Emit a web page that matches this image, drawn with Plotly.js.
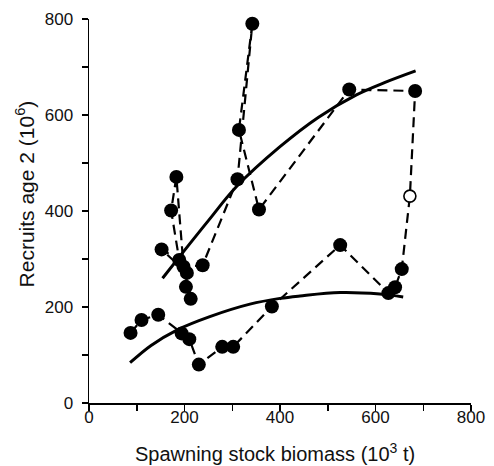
<!DOCTYPE html>
<html>
<head>
<meta charset="utf-8">
<script src="https://cdn.plot.ly/plotly-3.0.1.min.js"></script>
<style>html,body{margin:0;padding:0;background:#fff;}#chart{width:494px;height:466px;}</style>
</head>
<body>
<div id="chart"></div>
<script>
// Stock–recruitment time path (in sequence), spawning stock biomass (10^3 t) and recruits age 2 (10^6)
const ssb = [87, 110, 145, 194, 210, 230, 279, 302, 383, 526, 627, 641, 655, 672, 683, 545, 356, 314, 342, 311, 238, 198, 183, 172, 189, 152, 205, 203, 213];
const recruits = [146, 173, 184, 145, 133, 80, 117, 117, 201, 329, 229, 241, 279, 431, 650, 653, 403, 569, 790, 466, 287, 284, 471, 401, 298, 320, 271, 242, 217];
// index of the open (estimated) point
const openIndex = 13;

// Fitted curves
const upperCurveX = [154, 200, 250, 309, 400, 480, 560, 620, 684];
const upperCurveY = [260, 318, 380, 451, 534, 595, 642, 668, 692];
const lowerCurveX = [86, 130, 184, 253, 337, 400, 442, 526, 609, 658];
const lowerCurveY = [84, 120, 152, 180, 206, 218, 223, 230, 227, 221];

const xTicks = [0, 200, 400, 600, 800];
const yTicks = [0, 200, 400, 600, 800];

const filledX = ssb.filter((_, i) => i !== openIndex);
const filledY = recruits.filter((_, i) => i !== openIndex);

const traces = [
  {x: ssb, y: recruits, mode: 'lines', type: 'scatter', cliponaxis: false,
   line: {color: '#000', width: 2.2, dash: '10px,6px'}, hoverinfo: 'skip'},
  {x: upperCurveX, y: upperCurveY, mode: 'lines', type: 'scatter', cliponaxis: false,
   line: {color: '#000', width: 3, shape: 'spline', smoothing: 1}},
  {x: lowerCurveX, y: lowerCurveY, mode: 'lines', type: 'scatter', cliponaxis: false,
   line: {color: '#000', width: 3, shape: 'spline', smoothing: 1}},
  {x: filledX, y: filledY, mode: 'markers', type: 'scatter', cliponaxis: false,
   marker: {color: '#000', size: 14, line: {width: 0}}},
  {x: [ssb[openIndex]], y: [recruits[openIndex]], mode: 'markers', type: 'scatter', cliponaxis: false,
   marker: {color: '#fff', size: 12, line: {color: '#000', width: 1.6}}}
];

const axisCommon = {
  showline: true, linecolor: '#000', linewidth: 1.5,
  ticks: 'outside', ticklen: 6, tickwidth: 1.5, tickcolor: '#000',
  showgrid: false, zeroline: false,
  tickfont: {family: 'Liberation Sans, Arial, sans-serif', size: 17, color: '#111'},
  minor: {dtick: 100, ticks: 'outside', ticklen: 6, tickwidth: 1.5, tickcolor: '#000', showgrid: false}
};

const layout = {
  width: 494, height: 466,
  margin: {l: 89, r: 23, t: 19, b: 63},
  paper_bgcolor: '#fff', plot_bgcolor: '#fff',
  showlegend: false,
  xaxis: Object.assign({}, axisCommon, {range: [0, 800], tickvals: xTicks, ticktext: xTicks.map(String), ticklabelstandoff: -8}),
  yaxis: Object.assign({}, axisCommon, {range: [0, 800], tickvals: yTicks, ticktext: yTicks.map(String), ticklabelstandoff: 5}),
  annotations: [
    {text: 'Spawning stock biomass (10<sup>3</sup> t)', xref: 'paper', yref: 'paper',
     x: 0.488, y: -0.163, xanchor: 'center', yanchor: 'bottom', showarrow: false, borderpad: 0,
     font: {family: 'Liberation Sans, Arial, sans-serif', size: 20, color: '#111'}},
    {text: 'Recruits age 2 (10<sup>6</sup>)', xref: 'paper', yref: 'paper', textangle: -90,
     x: -0.165, y: 0.5456, xanchor: 'center', yanchor: 'middle', showarrow: false,
     font: {family: 'Liberation Sans, Arial, sans-serif', size: 21, color: '#111'}}
  ]
};

Plotly.newPlot('chart', traces, layout, {displayModeBar: false, staticPlot: true});
</script>
</body>
</html>
